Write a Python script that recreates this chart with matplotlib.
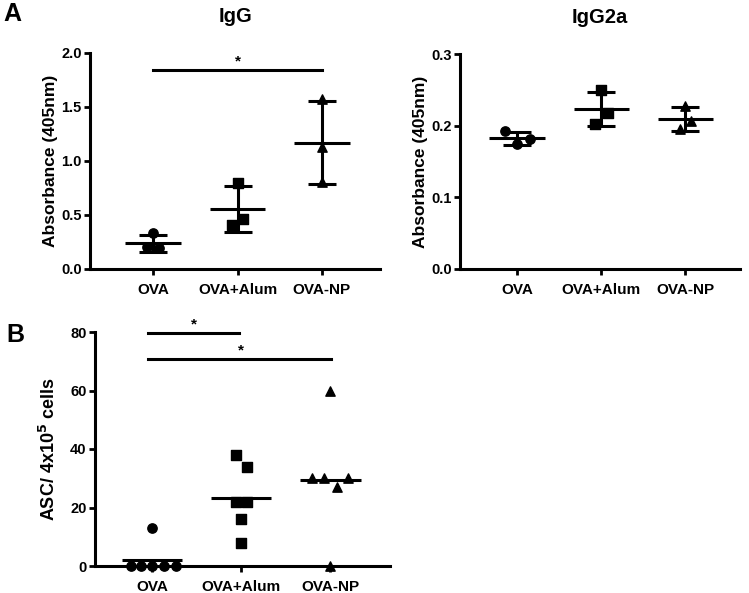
import numpy as np
import matplotlib.pyplot as plt

plt.rcParams['font.family'] = ['Liberation Sans', 'DejaVu Sans']
plt.rcParams['font.weight'] = 'bold'

# ---------------------------
# data
# ---------------------------
groups = ["OVA", "OVA+Alum", "OVA-NP"]
markers = ["o", "s", "^"]

igg_ova = [0.33, 0.20, 0.19]
igg_alum = [0.80, 0.46, 0.41]
igg_np = [1.57, 1.13, 0.81]

igg2a_ova = [0.192, 0.174, 0.181]
igg2a_alum = [0.250, 0.217, 0.203]
igg2a_np = [0.227, 0.206, 0.195]

asc_ova = [0, 0, 0, 0, 0, 13]
asc_alum = [38, 34, 22, 22, 16, 8]
asc_np = [60, 30, 30, 30, 27, 0]

# horizontal scatter of points (layout only)
igg_dx = [[0, -0.07, 0.07], [0, 0.07, -0.07], [0, 0, 0]]
igg2a_dx = [[-0.14, 0, 0.15], [0, 0.08, -0.08], [0, 0.07, -0.06]]
asc_dx = [[-0.24, -0.12, 0.0, 0.13, 0.27, 0.0],
          [-0.06, 0.07, -0.06, 0.07, 0.0, 0.0],
          [0.0, -0.2, -0.07, 0.2, 0.08, 0.0]]

W, H = 749, 593
fig = plt.figure(figsize=(W / 100, H / 100), dpi=100)


def px_axes(left, top, right, bottom):
    return fig.add_axes([left / W, 1 - bottom / H, (right - left) / W, (bottom - top) / H])


def style(ax):
    for s in ["top", "right"]:
        ax.spines[s].set_visible(False)
    for s in ["left", "bottom"]:
        ax.spines[s].set_linewidth(2.2)
    ax.tick_params(axis="both", width=2, length=4, color="black")
    ax.tick_params(axis="y", labelsize=10.5, pad=2)
    ax.tick_params(axis="x", labelsize=11, pad=6)
    ax.set_xticks(range(3))
    ax.set_xticklabels(groups)


def mean_sd_panel(ax, series, offsets):
    for i, vals in enumerate(series):
        vals = np.array(vals)
        ax.scatter(i + np.array(offsets[i]), vals, marker=markers[i], s=45,
                   color="black", zorder=3, clip_on=False)
        m = vals.mean()
        sd = vals.std(ddof=1)
        ax.errorbar(i, m, yerr=sd, fmt="none", ecolor="black", elinewidth=2.2,
                    capsize=10, capthick=2.2, zorder=4)
        ax.hlines(m, i - 0.33, i + 0.33, color="black", linewidth=2.2, zorder=4)


# ---------------------------
# A: IgG
# ---------------------------
ax1 = px_axes(90, 53, 380, 269)
mean_sd_panel(ax1, [igg_ova, igg_alum, igg_np], igg_dx)
ax1.set_xlim(-0.75, 2.69)
ax1.set_ylim(0, 2.0)
ax1.set_yticks([0, 0.5, 1.0, 1.5, 2.0])
ax1.set_yticklabels(["0.0", "0.5", "1.0", "1.5", "2.0"])
ax1.set_ylabel("Absorbance (405nm)", fontsize=12.5, fontweight="bold", labelpad=2)
ax1.set_title("IgG", fontsize=14.5, fontweight="bold", pad=22)
ax1.plot([0, 2], [1.84, 1.84], color="black", linewidth=2.2, clip_on=False)
ax1.text(1, 1.92, "*", ha="center", va="center", fontsize=11, fontweight="bold")
style(ax1)

# ---------------------------
# A: IgG2a
# ---------------------------
ax2 = px_axes(460, 54, 740, 269)
mean_sd_panel(ax2, [igg2a_ova, igg2a_alum, igg2a_np], igg2a_dx)
ax2.set_xlim(-0.68, 2.65)
ax2.set_ylim(0, 0.3)
ax2.set_yticks([0, 0.1, 0.2, 0.3])
ax2.set_yticklabels(["0.0", "0.1", "0.2", "0.3"])
ax2.set_ylabel("Absorbance (405nm)", fontsize=12.5, fontweight="bold", labelpad=2)
ax2.set_title("IgG2a", fontsize=14.5, fontweight="bold", pad=22)
style(ax2)

# ---------------------------
# B: ASC
# ---------------------------
ax3 = px_axes(95, 332, 390, 566)
for i, vals in enumerate([asc_ova, asc_alum, asc_np]):
    vals = np.array(vals)
    ax3.scatter(i + np.array(asc_dx[i]), vals, marker=markers[i], s=45,
                color="black", zorder=3, clip_on=False)
    ax3.hlines(vals.mean(), i - 0.34, i + 0.34, color="black", linewidth=2.2, zorder=4)
ax3.set_xlim(-0.64, 2.67)
ax3.set_ylim(0, 80)
ax3.set_yticks([0, 20, 40, 60, 80])
ax3.set_ylabel(r"ASC/ 4x10$^\mathbf{5}$ cells", fontsize=13, fontweight="bold", labelpad=8)
ax3.plot([-0.04, 0.98], [79.5, 79.5], color="black", linewidth=2.2, clip_on=False)
ax3.text(0.47, 82.5, "*", ha="center", va="center", fontsize=11, fontweight="bold")
ax3.plot([-0.04, 2.01], [70.8, 70.8], color="black", linewidth=2.2, clip_on=False)
ax3.text(1.0, 73.8, "*", ha="center", va="center", fontsize=11, fontweight="bold")
style(ax3)

fig.text(12 / W, 1 - 14 / H, "A", fontsize=18, fontweight="bold", ha="center", va="center")
fig.text(15 / W, 1 - 335 / H, "B", fontsize=18, fontweight="bold", ha="center", va="center")

fig.savefig("out.png", dpi=100)
